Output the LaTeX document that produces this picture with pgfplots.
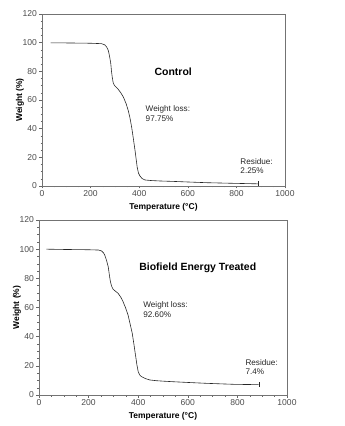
\documentclass[border=0pt]{standalone}
\usepackage{fontspec}
\setmainfont{Liberation Sans}
\usepackage{pgfplots}
\pgfplotsset{compat=1.18}
\pgfplotsset{tgastyle/.style={
  scale only axis, xmin=0,xmax=1000,ymin=0,ymax=120,
  xtick={0,200,...,1000}, ytick={0,20,...,120},
  minor x tick num=3, minor y tick num=3,
  xtick pos=bottom, ytick pos=left, tick align=outside,
  major tick length=2.5bp, minor tick length=1.5bp,
  axis line style={draw=black!55},
  every tick/.style={black!60},
  tick label style={font=\fontsize{8.6}{9.5}\selectfont, text=black!70},
  xticklabel style={yshift=1.5bp},
  yticklabel style={xshift=1bp},
  /pgf/number format/assume math mode=true,
  /pgf/number format/1000 sep={},
  xlabel={\bfseries Temperature (°C)}, ylabel={\bfseries Weight (\%)},
  label style={font=\fontsize{8.5}{10}\selectfont},
  xlabel style={yshift=0bp},
  ylabel style={yshift=-8bp},
  clip=false,
}}
\begin{document}
\begin{tikzpicture}
\path[use as bounding box] (0,0) rectangle (345bp,426bp);
\begin{axis}[tgastyle, at={(42bp,240bp)}, anchor=south west, width=243bp, height=172bp]
\addplot[black!85, line width=0.6pt] coordinates {
(35,99.9)(100,99.8)(200,99.6)(245,99.3)(258,98.5)(266,97)(273,94.5)(278,90.5)(283,85.5)(286,80)(289,76)(293,72)(298,70.2)(306,68.8)(314,67.4)(325,64.8)(335,62)(346,57.5)(355,52.6)(362,47.5)(369,41)(376,33)(383,24.6)(388,18)(392,12.8)(397,9)(403,7)(412,5.2)(424,4.2)(450,3.8)(486,3.5)(540,3.2)(600,2.8)(678,2.3)(780,1.9)(890,1.5)};
\addplot[black!85, mark=|, mark size=2.5bp, only marks] coordinates {(890,1.5)};
\node[font=\fontsize{10.5}{12}\selectfont\bfseries] at (axis cs:540,79.5) {Control};
\node[font=\fontsize{8.2}{9.5}\selectfont, anchor=north west, align=left, text=black!85, inner sep=0pt] at (axis cs:426,56) {Weight loss:\\97.75\%};
\node[font=\fontsize{8.2}{9.5}\selectfont, anchor=north west, align=left, text=black!85, inner sep=0pt] at (axis cs:816,19.5) {Residue:\\2.25\%};
\end{axis}
\begin{axis}[tgastyle, at={(39bp,31bp)}, anchor=south west, width=248bp, height=175bp]
\addplot[black!85, line width=0.6pt] coordinates {
(30,100)(100,99.8)(200,99.6)(240,99.4)(252,98.8)(260,97.5)(265,96)(272,92.5)(279,88)(284,82)(288,77.7)(293,74.5)(299,72.5)(308,71.2)(319,69.7)(330,67)(339,64)(349,59.8)(359,54.9)(367,49)(376,42.3)(383,34.5)(390,26.3)(395,20.5)(400,16)(406,13.8)(413,12.6)(430,11.2)(447,10.3)(474,9.8)(500,9.5)(541,9.1)(600,8.6)(676,8.0)(740,7.6)(790,7.3)(886,7.1)};
\addplot[black!85, mark=|, mark size=2.5bp, only marks] coordinates {(886,7.1)};
\node[font=\fontsize{10.5}{12}\selectfont\bfseries] at (axis cs:640,87.5) {Biofield Energy Treated};
\node[font=\fontsize{8.2}{9.5}\selectfont, anchor=north west, align=left, text=black!85, inner sep=0pt] at (axis cs:420,64) {Weight loss:\\92.60\%};
\node[font=\fontsize{8.2}{9.5}\selectfont, anchor=north west, align=left, text=black!85, inner sep=0pt] at (axis cs:832,24.5) {Residue:\\7.4\%};
\end{axis}
\end{tikzpicture}
\end{document}
